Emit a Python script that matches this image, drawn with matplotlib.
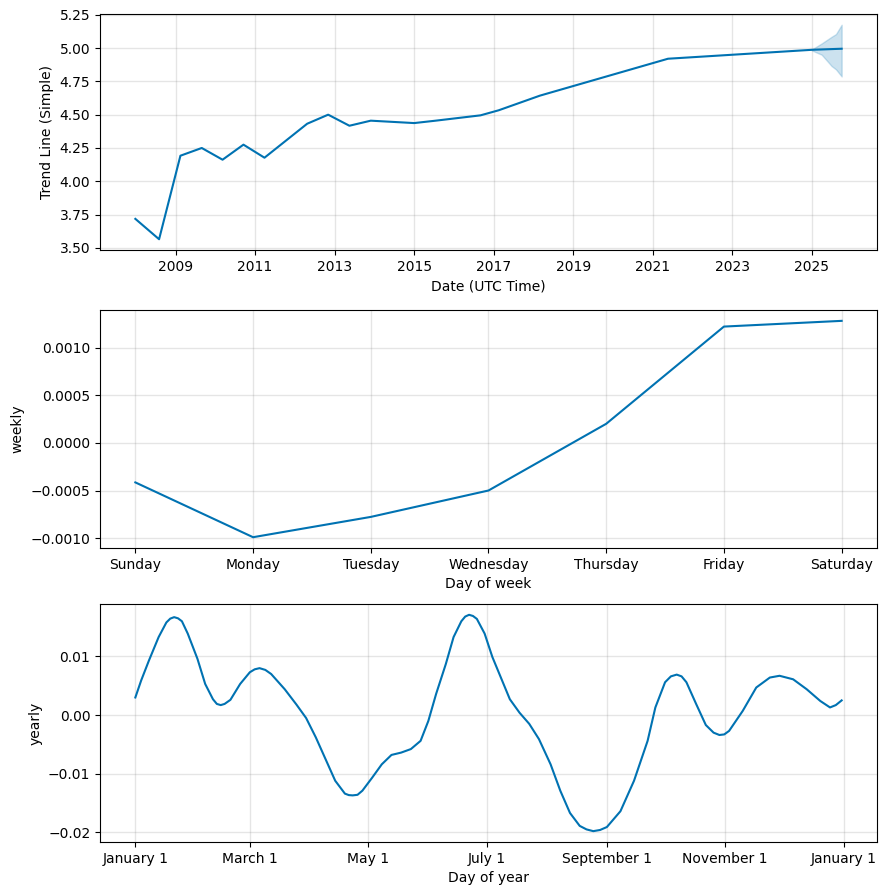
import numpy as np
import pandas as pd
import matplotlib
matplotlib.use('Agg')
import matplotlib.pyplot as plt
import matplotlib.dates as mdates

# trend (simple) - knots
trend_dates = ['2007-12-28', '2008-08-02', '2009-02-14', '2009-08-29', '2010-03-08',
               '2010-09-16', '2011-03-28', '2012-04-23', '2012-11-02', '2013-05-16',
               '2013-11-28', '2015-01-01', '2015-07-17', '2016-09-01', '2017-02-15',
               '2018-03-01', '2021-05-20', '2025-01-01', '2025-10-01']
trend_vals = [3.718, 3.565, 4.192, 4.250, 4.162,
              4.275, 4.177, 4.432, 4.500, 4.417,
              4.455, 4.437, 4.455, 4.495, 4.533,
              4.643, 4.920, 4.987, 4.995]

# forecast uncertainty band at the end
band_dates = ['2025-01-01', '2025-04-01', '2025-07-01', '2025-08-10', '2025-10-01']
band_upper = [4.990, 5.035, 5.085, 5.105, 5.175]
band_lower = [4.982, 4.950, 4.865, 4.840, 4.787]

# weekly seasonality
week_days = ['Sunday', 'Monday', 'Tuesday', 'Wednesday', 'Thursday', 'Friday', 'Saturday']
weekly_vals = [-0.000415, -0.00099, -0.000777, -0.0005, 0.0002, 0.00122, 0.00128]

# yearly seasonality (day offset from Jan 1, value)
year_days = [0, 3, 7, 12, 16, 18, 20, 22, 24, 27, 32, 36, 40, 42, 44, 46, 49, 54, 59, 61.5,
             64, 67, 70, 77, 83, 88, 93, 98, 103, 108, 110, 112, 114.5, 117, 122, 127, 132,
             137, 142, 147, 151, 155, 160, 164, 168, 170, 172, 174, 176, 180, 184, 189, 193,
             198, 203, 208, 214, 219, 224, 229, 232.5, 236, 239.5, 243, 250, 257, 264, 268,
             273, 276, 279, 281.5, 284, 289, 294, 298, 301, 303.5, 306, 313, 320, 327, 332,
             339, 346, 353, 358, 361, 364]
yearly_vals = [0.0030, 0.0059, 0.0093, 0.0133, 0.0158, 0.01645, 0.0167, 0.0165, 0.0160, 0.0139,
               0.0096, 0.0053, 0.0027, 0.0019, 0.0017, 0.0019, 0.0026, 0.0053, 0.0073, 0.0078,
               0.0080, 0.0077, 0.0070, 0.0044, 0.0018, -0.0005, -0.0038, -0.0075, -0.0112,
               -0.0134, -0.01365, -0.0137, -0.0136, -0.0129, -0.0107, -0.0084, -0.0068,
               -0.0064, -0.0058, -0.0044, -0.0010, 0.0036, 0.0087, 0.0133, 0.0160, 0.0168,
               0.0171, 0.0169, 0.0164, 0.0139, 0.0099, 0.0059, 0.0027, 0.0004, -0.0015,
               -0.0041, -0.0084, -0.0129, -0.0167, -0.0189, -0.0195, -0.0198, -0.0196,
               -0.0191, -0.0164, -0.0112, -0.0044, 0.0013, 0.0056, 0.0066, 0.0069, 0.0066,
               0.0056, 0.0019, -0.0017, -0.0030, -0.0034, -0.0033, -0.0027, 0.0007, 0.0047,
               0.0064, 0.0067, 0.0061, 0.0044, 0.0024, 0.0013, 0.0017, 0.0025]

color = '#0072B2'

fig = plt.figure(figsize=(8.86, 8.94), dpi=100)
ax1 = fig.add_axes([0.1129, 0.7204, 0.8769, 0.2639])
ax2 = fig.add_axes([0.1129, 0.3870, 0.8769, 0.2662])
ax3 = fig.add_axes([0.1129, 0.0582, 0.8769, 0.2662])

def style(ax):
    ax.grid(True, which='major', c='gray', ls='-', lw=1, alpha=0.2)

# trend
td = pd.to_datetime(trend_dates)
ax1.plot(td, trend_vals, ls='-', c=color)
ax1.fill_between(pd.to_datetime(band_dates), band_lower, band_upper, color=color, alpha=0.2)
ax1.set_xticks(pd.to_datetime([f'{y}-01-01' for y in range(2009, 2026, 2)]))
ax1.xaxis.set_major_formatter(mdates.DateFormatter('%Y'))
ax1.set_yticks(np.arange(3.5, 5.26, 0.25))
ax1.yaxis.set_major_formatter(plt.FormatStrFormatter('%.2f'))
ax1.set_xlabel('Date (UTC Time)')
ax1.set_ylabel('Trend Line (Simple)')
style(ax1)

# weekly
ax2.plot(range(len(week_days)), weekly_vals, ls='-', c=color)
ax2.set_xticks(range(len(week_days)))
ax2.set_xticklabels(week_days)
ax2.set_xlabel('Day of week')
ax2.set_ylabel('weekly')
style(ax2)

# yearly
yd = pd.Timestamp('2017-01-01') + pd.to_timedelta(year_days, unit='D')
ax3.plot(yd, yearly_vals, ls='-', c=color)
ax3.xaxis.set_major_locator(mdates.MonthLocator(bymonth=[1, 3, 5, 7, 9, 11]))
ax3.xaxis.set_major_formatter(mdates.DateFormatter('%B %-d'))
ax3.set_xlabel('Day of year')
ax3.set_ylabel('yearly')
style(ax3)

fig.savefig('out.png', dpi=100)
